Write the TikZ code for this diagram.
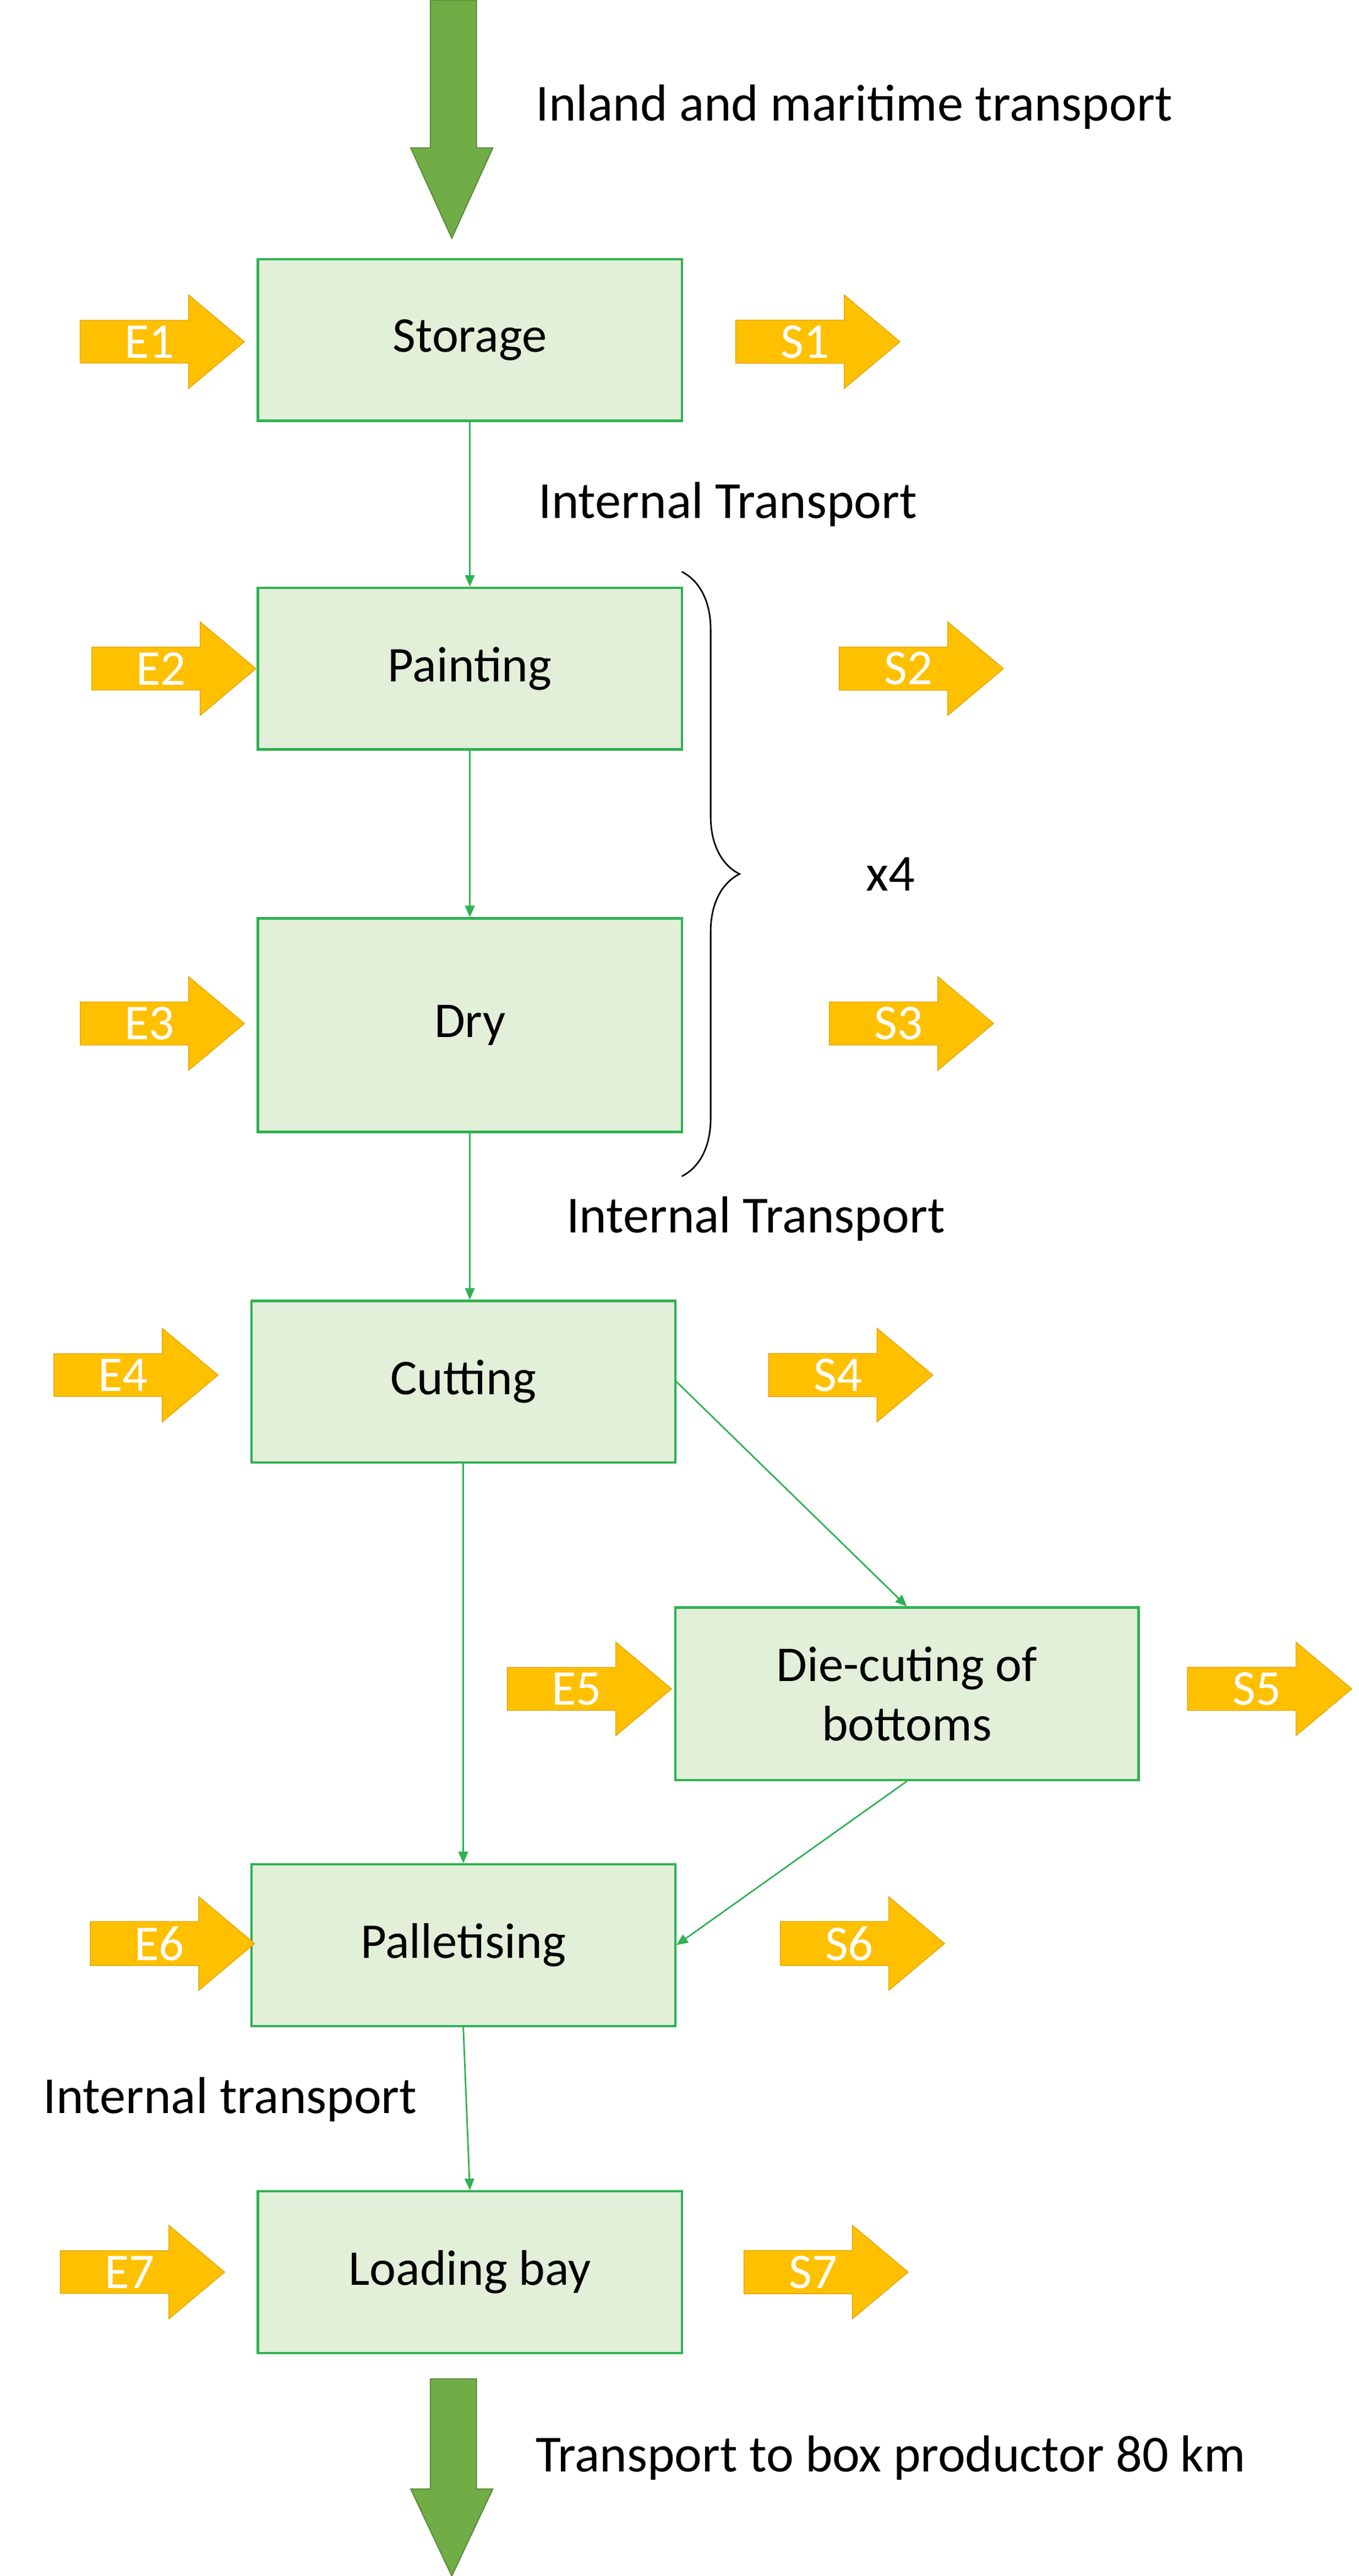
\documentclass[tikz,border=0pt]{standalone}
\usepackage{fontspec}
\setmainfont{Carlito}
\usetikzlibrary{shapes.arrows,decorations.pathreplacing,arrows.meta}
\definecolor{bfill}{HTML}{E2EFD9}
\definecolor{bline}{HTML}{2EB152}
\definecolor{orng}{HTML}{FFC000}
\definecolor{orngd}{HTML}{E0A500}
\definecolor{grn}{HTML}{70AD47}
\begin{document}
\begin{tikzpicture}[x=0.03cm,y=-0.03cm,
 box/.style={draw=bline,line width=1.2pt,fill=bfill,minimum width=7.74cm,minimum height=2.95cm,font=\fontsize{26}{31}\selectfont,align=center},
 io/.style={single arrow,draw=orngd,fill=orng,minimum height=3cm,minimum width=1.71cm,single arrow head extend=0.4cm,single arrow tip angle=80,text=white,font=\fontsize{26}{30}\selectfont,inner sep=1pt},
 big/.style={draw=grn!80!black,fill=grn,line width=0.6pt},
 lbl/.style={font=\fontsize{27}{32}\selectfont},
 con/.style={draw=bline,line width=0.8pt,-{Triangle[length=6pt,width=5pt]}}]
\useasboundingbox (0,0) rectangle (827,1568);
\draw[big] (262,0) -- (290,0) -- (290,90) -- (300,90) -- (275,145) -- (250,90) -- (262,90) -- cycle;
\node[lbl,anchor=west] (tl) at (322,65) {Inland and maritime transport};
\node[box] (st) at (286,207) {Storage};
\node[box] (pa) at (286,407) {Painting};
\node[box,minimum height=3.9cm] (dr) at (286,624) {Dry};
\node[box] (cu) at (282,841) {Cutting};
\node[box,minimum width=8.46cm,minimum height=3.15cm] (dc) at (552,1031) {Die-cuting of\\bottoms};
\node[box] (pl) at (282,1184) {Palletising};
\node[box] (lb) at (286,1383) {Loading bay};
\draw[big] (262,1448) -- (290,1448) -- (290,1515) -- (300,1515) -- (275,1568) -- (250,1515) -- (262,1515) -- cycle;
\node[lbl,anchor=west] (bl) at (322,1496) {Transport to box productor 80 km};
\node[lbl] (it1) at (443,307) {Internal Transport};
\node[lbl] (it2) at (460,742) {Internal Transport};
\node[lbl] (it3) at (140,1278) {Internal transport};
\node[lbl] (x4) at (542,532) {x4};
\draw[line width=0.8pt,decoration={brace,amplitude=30pt},decorate] (415,348) -- (415,716);
\foreach \n/\x/\y in {E1/91/208,E2/98/407,E3/91/623,E4/75/837,E5/351/1028,E6/97/1183,E7/79/1383,
 S1/490/208,S2/553/407,S3/547/623,S4/510/837,S5/765/1028,S6/517/1183,S7/495/1383}
 \node[io] (\n) at (\x,\y) {\n\hspace{0.6em}};
\draw[con] (st.south) -- (pa.north);
\draw[con] (pa.south) -- (dr.north);
\draw[con] (dr.south) -- (cu.north -| dr.south);
\draw[con] (cu.south) -- (pl.north);
\draw[con] (cu.east) -- (dc.north);
\draw[con] (dc.south) -- (pl.east);
\draw[con] (pl.south) -- (lb.north);
\end{tikzpicture}
\end{document}
